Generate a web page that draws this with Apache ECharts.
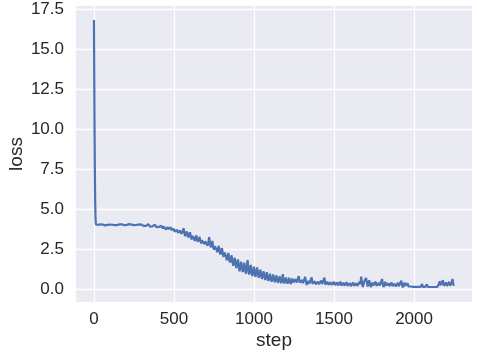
<!DOCTYPE html>
<html>
<head>
<meta charset="utf-8">
<script src="https://cdn.jsdelivr.net/npm/echarts@6/dist/echarts.min.js"></script>
<style>
  html, body { margin: 0; padding: 0; background: #fff; }
  #chart { width: 477px; height: 356px; }
</style>
</head>
<body>
<div id="chart"></div>
<script>
// first few steps (the steep drop)
var headSteps = [0, 2, 4, 6, 8, 10, 12, 15];
var headLoss = [16.85, 13.5, 10.0, 7.2, 5.4, 4.4, 4.05, 4.0];

// rest of the run, logged every 5 steps from step 20
var tailStart = 20;
var tailStride = 5;
var tailLoss = [
    4.03, 4.00, 3.99, 4.04, 4.05, 4.01, 4.00, 4.03, 4.04, 3.99, 3.98, 4.02, 4.06, 4.01, 4.01, 4.04, 4.03, 4.00, 3.99, 4.02,
    4.05, 4.01, 4.00, 4.04, 4.07, 4.00, 3.98, 4.03, 4.04, 4.00, 4.01, 4.05, 4.08, 4.02, 3.99, 4.03, 4.05, 4.01, 4.00, 4.04,
    4.06, 4.00, 3.97, 4.03, 4.04, 3.99, 4.00, 4.05, 4.09, 4.01, 3.98, 4.02, 4.03, 3.97, 3.96, 4.04, 4.05, 3.98, 3.95, 4.01,
    4.02, 3.95, 3.93, 4.03, 4.06, 3.96, 3.90, 3.99, 4.00, 3.92, 3.88, 3.97, 4.03, 3.92, 3.86, 3.95, 3.98, 3.88, 3.82, 3.92,
    3.96, 3.85, 3.78, 3.92, 4.02, 3.80, 3.72, 3.84, 3.88, 3.74, 3.66, 3.80, 3.85, 3.70, 3.60, 3.68, 3.75, 3.58, 3.50, 3.64,
    3.70, 3.52, 3.40, 3.58, 3.65, 3.45, 3.35, 3.60, 3.80, 3.50, 3.30, 3.44, 3.60, 3.38, 3.22, 3.40, 3.55, 3.28, 3.10, 3.32,
    3.40, 3.15, 3.00, 3.22, 3.35, 3.08, 2.95, 3.12, 3.25, 3.02, 2.85, 3.05, 3.15, 2.95, 2.80, 2.98, 3.10, 2.88, 2.70, 2.90,
    3.25, 2.85, 2.60, 2.78, 3.00, 2.62, 2.45, 2.68, 2.80, 2.48, 2.30, 2.52, 2.70, 2.35, 2.15, 2.40, 2.55, 2.22, 2.00, 2.28,
    2.35, 2.05, 1.80, 2.00, 2.25, 1.85, 1.65, 1.90, 2.10, 1.70, 1.45, 1.72, 1.95, 1.55, 1.30, 1.60, 1.85, 1.40, 1.10, 1.45,
    1.70, 1.30, 1.05, 1.35, 1.65, 1.20, 0.95, 1.28, 1.80, 1.25, 0.90, 1.15, 1.50, 1.05, 0.80, 1.10, 1.40, 0.98, 0.75, 1.05,
    1.35, 0.95, 0.70, 0.98, 1.20, 0.85, 0.62, 0.90, 1.10, 0.78, 0.55, 0.80, 1.05, 0.70, 0.50, 0.72, 0.95, 0.62, 0.45, 0.66,
    0.90, 0.60, 0.42, 0.62, 0.85, 0.55, 0.38, 0.58, 0.80, 0.52, 0.36, 0.55, 0.93, 0.50, 0.35, 0.48, 0.72, 0.46, 0.33, 0.50,
    0.70, 0.45, 0.32, 0.48, 0.65, 0.42, 0.30, 0.44, 0.60, 0.40, 0.28, 0.42, 0.80, 0.40, 0.28, 0.38, 0.55, 0.36, 0.26, 0.38,
    0.75, 0.40, 0.25, 0.36, 0.50, 0.34, 0.24, 0.35, 0.72, 0.33, 0.22, 0.34, 0.48, 0.30, 0.22, 0.32, 0.45, 0.30, 0.20, 0.30,
    0.52, 0.30, 0.20, 0.32, 0.70, 0.28, 0.18, 0.30, 0.45, 0.26, 0.17, 0.28, 0.42, 0.25, 0.16, 0.28, 0.44, 0.24, 0.15, 0.26,
    0.40, 0.22, 0.14, 0.26, 0.45, 0.22, 0.12, 0.24, 0.38, 0.20, 0.12, 0.25, 0.42, 0.20, 0.10, 0.22, 0.36, 0.18, 0.10, 0.22,
    0.40, 0.20, 0.09, 0.20, 0.35, 0.18, 0.10, 0.25, 0.45, 0.30, 0.77, 0.35, 0.12, 0.30, 0.50, 0.40, 0.69, 0.45, 0.15, 0.30,
    0.55, 0.30, 0.12, 0.25, 0.40, 0.22, 0.10, 0.24, 0.45, 0.20, 0.09, 0.22, 0.38, 0.20, 0.10, 0.30, 0.62, 0.28, 0.12, 0.25,
    0.45, 0.22, 0.10, 0.20, 0.35, 0.18, 0.09, 0.22, 0.40, 0.18, 0.08, 0.18, 0.32, 0.16, 0.09, 0.20, 0.38, 0.16, 0.08, 0.20,
    0.52, 0.25, 0.09, 0.22, 0.40, 0.20, 0.10, 0.18, 0.35, 0.15, 0.12, 0.13, 0.15, 0.12, 0.12, 0.13, 0.14, 0.12, 0.13, 0.12,
    0.12, 0.13, 0.13, 0.12, 0.12, 0.13, 0.30, 0.13, 0.12, 0.12, 0.13, 0.12, 0.28, 0.12, 0.13, 0.12, 0.12, 0.13, 0.12, 0.12,
    0.13, 0.12, 0.12, 0.13, 0.12, 0.12, 0.13, 0.30, 0.48, 0.22, 0.10, 0.25, 0.55, 0.20, 0.12, 0.22, 0.40, 0.18, 0.10, 0.24,
    0.45, 0.20, 0.12, 0.35, 0.62, 0.30, 0.20
];

var xTicks = [0, 500, 1000, 1500, 2000];
var yTicks = [0, 2.5, 5, 7.5, 10, 12.5, 15, 17.5];

var points = [];
headSteps.forEach(function (s, i) {
    points.push([s, headLoss[i]]);
});
tailLoss.forEach(function (v, i) {
    points.push([tailStart + i * tailStride, v]);
});

var textColor = '#262626';
var fontFamily = 'Arial, "Liberation Sans", sans-serif';

var chart = echarts.init(document.getElementById('chart'));
chart.setOption({
    animation: false,
    grid: {
        left: 76, right: 5, top: 6, bottom: 54,
        containLabel: false,
        outerBoundsMode: 'none',
        show: true,
        backgroundColor: '#EAEAF2',
        borderWidth: 0
    },
    xAxis: {
        type: 'value',
        min: -112,
        max: 2362,
        name: 'step',
        nameLocation: 'middle',
        nameGap: 29,
        nameMoveOverlap: false,
        nameTextStyle: { fontSize: 19, color: textColor, fontFamily: fontFamily },
        axisLine: { show: false },
        axisTick: { show: false, customValues: xTicks },
        axisLabel: {
            customValues: xTicks,
            fontSize: 17,
            color: textColor,
            fontFamily: fontFamily,
            margin: 9,
            formatter: function (v) { return String(v); }
        },
        splitLine: { show: true, lineStyle: { color: '#ffffff', width: 1.3 } }
    },
    yAxis: {
        type: 'value',
        min: -0.82,
        max: 17.72,
        name: 'loss',
        nameLocation: 'middle',
        nameGap: 50,
        nameMoveOverlap: false,
        nameTextStyle: { fontSize: 19, color: textColor, fontFamily: fontFamily },
        axisLine: { show: false },
        axisTick: { show: false, customValues: yTicks },
        axisLabel: {
            customValues: yTicks,
            fontSize: 17,
            color: textColor,
            fontFamily: fontFamily,
            margin: 12,
            formatter: function (v) { return v.toFixed(1); }
        },
        splitLine: { show: true, lineStyle: { color: '#ffffff', width: 1.3 } }
    },
    series: [{
        type: 'line',
        data: points,
        showSymbol: false,
        lineStyle: { color: '#4C72B0', width: 2.2 },
        z: 3
    }]
});
</script>
</body>
</html>
